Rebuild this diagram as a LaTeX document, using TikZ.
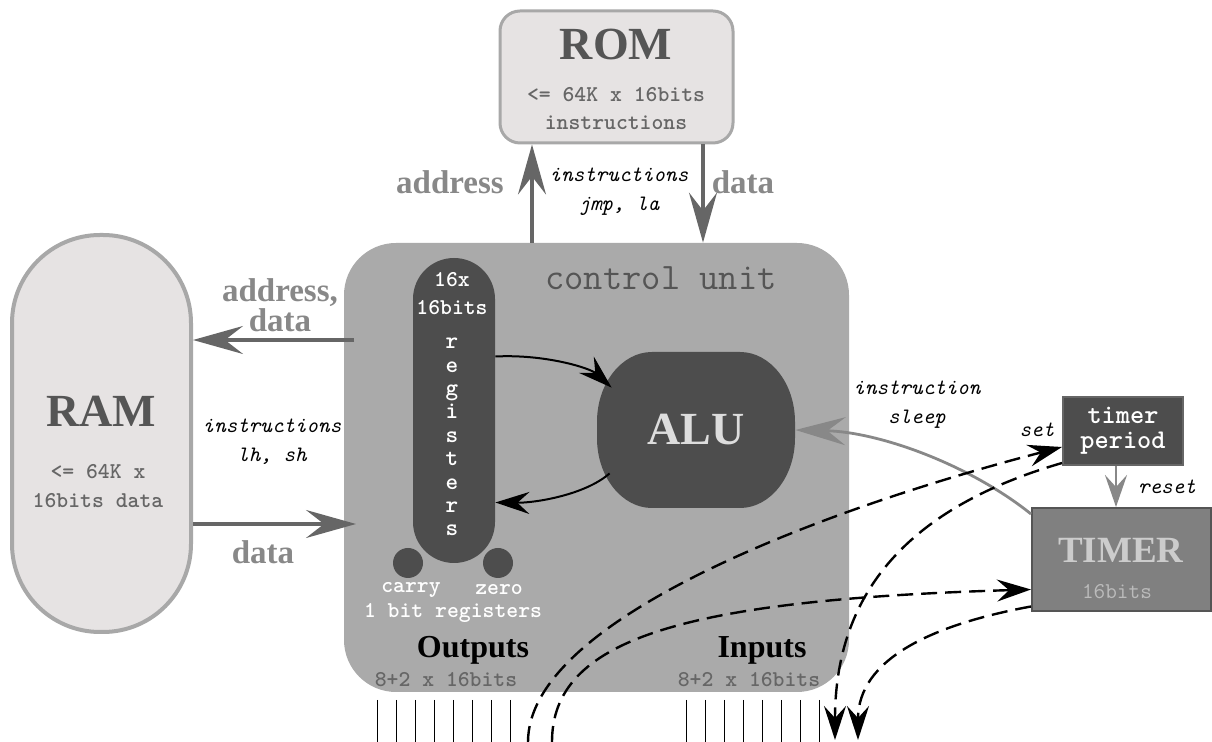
\documentclass[tikz,border=0pt]{standalone}
\usepackage{fontspec}
\newfontfamily\labelfont{Liberation Serif}
\newfontfamily\boldmono[Extension=.otf]{lmmonolt10-bold}
\usetikzlibrary{arrows.meta}

\definecolor{memfill}{HTML}{E6E3E3}
\definecolor{memline}{HTML}{A8A8A8}
\definecolor{cufill}{HTML}{AAAAAA}
\definecolor{darkpart}{HTML}{4D4D4D}
\definecolor{titlegray}{HTML}{555555}
\definecolor{textgray}{HTML}{666666}
\definecolor{busgray}{HTML}{666666}
\definecolor{labelgray}{HTML}{888888}
\definecolor{timergray}{HTML}{808080}
\definecolor{resetgray}{HTML}{888888}
\definecolor{alutext}{HTML}{DDDDDD}
\definecolor{timertext}{HTML}{CCCCCC}
\definecolor{bitsgray}{HTML}{BBBBBB}

\tikzset{
  memory/.style={draw=memline, fill=memfill},
  title/.style={font=\labelfont\bfseries\fontsize{23}{26}\selectfont, text=titlegray},
  memtext/.style={font=\boldmono\fontsize{11.3}{14}\selectfont, text=textgray, align=center},
  buslabel/.style={font=\labelfont\bfseries\fontsize{16.5}{12}\selectfont, text=labelgray, align=center},
  note/.style={font=\ttfamily\itshape\fontsize{11}{14.5}\selectfont, align=center},
  whitetext/.style={font=\boldmono\fontsize{11.3}{14}\selectfont, text=white, align=center},
  bus/.style={draw=busgray, line width=1.6pt, -{Stealth[length=25pt,width=14pt,inset=9pt]}},
  timerbus/.style={draw=resetgray, line width=1.4pt, -{Stealth[length=16pt,width=11pt,inset=6pt]}},
  flow/.style={draw=black, line width=1pt, -{Stealth[length=17pt,width=11pt,inset=6pt]}},
  wire/.style={draw=black, line width=1.2pt, dash pattern=on 8pt off 4pt, -{Stealth[length=17pt,width=11pt,inset=6pt]}},
  pin/.style={draw=black, line width=0.5pt},
}

\begin{document}
\begin{tikzpicture}[x=0.5pt,y=-0.5pt]
\useasboundingbox (0,0) rectangle (1212,742);

% memories
\node[memory, line width=1.5pt, rounded corners=10pt, minimum width=116.5pt, minimum height=66pt] (rom) at (616.5,77) {};
\node[title] at (616,45) {ROM};
\node[memtext] at (616,109) {<= 64K x 16bits\\instructions};

\node[memory, line width=2pt, rounded corners=44pt, minimum width=89.5pt, minimum height=198.5pt] (ram) at (101.5,433.5) {};
\node[title] at (101,411) {RAM};
\node[memtext, font=\boldmono\fontsize{11.3}{14.5}\selectfont] at (98,486) {<= 64K x\\16bits data};

% control unit
\node[fill=cufill, rounded corners=26pt, minimum width=252.5pt, minimum height=224.5pt] (cu) at (596.5,467.5) {};
\node[font=\ttfamily\fontsize{18.7}{20}\selectfont, text=titlegray] at (661,278) {control unit};

\node[fill=darkpart, rounded corners=20.5pt, minimum width=41pt, minimum height=152.5pt] (reg) at (454,410.5) {};
\node[whitetext] at (452,294) {16x\\16bits};
\node[whitetext, font=\boldmono\fontsize{12}{11.7}\selectfont] at (452,437) {r\\e\\g\\i\\s\\t\\e\\r\\s};
\node[circle, fill=darkpart, minimum size=15pt, inner sep=0pt] (carry) at (408,563) {};
\node[circle, fill=darkpart, minimum size=15pt, inner sep=0pt] (zero) at (498,563) {};
\node[whitetext] at (411,590) {carry};
\node[whitetext] at (499,590) {zero};
\node[whitetext] at (453,613) {1 bit registers};

% ALU, a squircle
\fill[darkpart] (652,352) -- (740,352) .. controls (770,352) and (795,383) .. (795,422) -- (795,438)
  .. controls (795,477) and (770,508) .. (740,508) -- (652,508) .. controls (622,508) and (597,477) .. (597,438)
  -- (597,422) .. controls (597,383) and (622,352) .. (652,352) -- cycle;
\node[font=\labelfont\bfseries\fontsize{23}{26}\selectfont, text=alutext, minimum width=99pt, minimum height=78pt] (alu) at (696,430) {ALU};

\node[font=\labelfont\bfseries\fontsize{16}{18}\selectfont] at (473,650) {Outputs};
\node[memtext] at (446,680) {8+2 x 16bits};
\node[font=\labelfont\bfseries\fontsize{16}{18}\selectfont] at (762,650) {Inputs};
\node[memtext] at (749,680) {8+2 x 16bits};

% timer
\node[fill=darkpart, draw=textgray, line width=1pt, minimum width=60pt, minimum height=34pt, align=center, text=white, font=\boldmono\fontsize{13.5}{12.5}\selectfont] (tperiod) at (1123,431) {timer\\period};
\node[fill=timergray, draw=titlegray, line width=1pt, minimum width=89.5pt, minimum height=51.5pt] (timer) at (1121.5,559.5) {};
\node[font=\labelfont\bfseries\fontsize{18.5}{20}\selectfont, text=timertext] at (1121,550) {TIMER};
\node[font=\ttfamily\fontsize{11.3}{14}\selectfont, text=bitsgray] at (1117,592) {16bits};

% ROM buses
\coordinate (romaddr) at (532,0);
\coordinate (romdata) at (703,0);
\draw[bus] (cu.north -| romaddr) -- (rom.south -| romaddr);
\draw[bus] (rom.south -| romdata) -- (cu.north -| romdata);
\node[buslabel] at (450,182) {address};
\node[buslabel] at (743,182) {data};
\node[note] at (619,192) {instructions\\jmp, la};

% RAM buses
\coordinate (ramout) at (354,340);
\coordinate (ramin) at (356,524);
\draw[bus] (ramout) -- (ram.east |- ramout);
\draw[bus] (ram.east |- ramin) -- (ramin);
\node[buslabel] at (280,305) {address,\\data};
\node[buslabel] at (263,552) {data};
\node[note] at (272,442) {instructions\\lh, sh};

% registers <-> ALU
\draw[flow] ([yshift=27pt]reg.east) .. controls (545,354) and (590,368) .. ([xshift=7.5pt,yshift=-18pt]alu.north west);
\draw[flow] ([xshift=6.5pt,yshift=17.5pt]alu.south west) .. controls (585,495) and (535,503) .. ([yshift=-46pt]reg.east);

% timer links
\draw[timerbus] ([xshift=-3.5pt]tperiod.south) -- ([xshift=-3.5pt]tperiod.south |- timer.north);
\node[note] at (1167,487) {reset};
\draw[timerbus, -{Stealth[length=25pt,width=14pt,inset=9pt]}] ([yshift=-3.5pt]timer.north west) .. controls (970,465) and (880,432) .. (alu.east);
\node[note] at (917,405) {instruction\\sleep};
\node[note] at (1037,430) {set};

% pins
\coordinate (outA) at (528,742);
\coordinate (outB) at (552,742);
\coordinate (inC) at (835,740);
\coordinate (inD) at (858,740);
\foreach \i in {0,...,7} {
  \draw[pin] ({377+19*\i},700) -- ({377+19*\i},742);
  \draw[pin] ({686+19*\i},700) -- ({686+19*\i},742);
}
\draw[wire] (outA) .. controls (528,620) and (820,510) .. ([yshift=-8pt]tperiod.west);
\draw[wire] (outB) .. controls (552,640) and (680,600) .. ([yshift=-15pt]timer.west);
\draw[wire] ([yshift=-16pt]tperiod.west) .. controls (900,510) and (835,600) .. (inC);
\draw[wire] ([yshift=-23.5pt]timer.west) .. controls (930,625) and (858,660) .. (inD);
\end{tikzpicture}
\end{document}
